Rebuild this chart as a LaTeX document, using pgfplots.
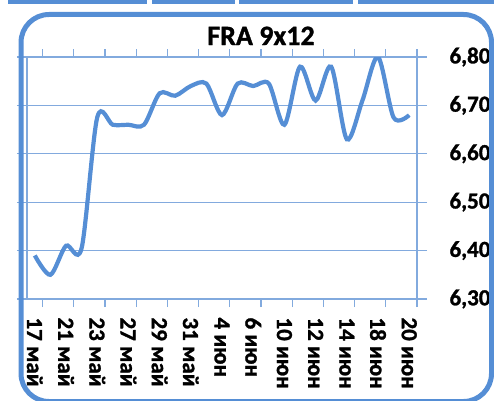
\documentclass[border=0pt]{standalone}
\usepackage{pgfplots}
\pgfplotsset{compat=1.18}
\usepackage{fontspec}
\setmainfont{Carlito}[BoldFeatures={FakeBold=1.2}]
\definecolor{lineblue}{RGB}{85,142,213}
\definecolor{gridblue}{RGB}{130,170,222}
\definecolor{frameblue}{RGB}{85,142,213}
\newcommand{\tlfont}{\fontsize{23bp}{25bp}\selectfont\bfseries}
\newcommand{\B}[1]{\textbf{#1}}
\begin{document}
\begin{tikzpicture}[x=1bp,y=1bp]
\useasboundingbox (0,0) rectangle (494,400);
\clip (0,0) rectangle (494,400);
% top strip
\fill[frameblue] (8,396) rectangle (147,400);
\fill[frameblue] (152,396) rectangle (235,400);
\fill[frameblue] (239,396) rectangle (353,400);
\fill[frameblue] (358,396) rectangle (494,400);
\node[anchor=base, font=\fontsize{28bp}{30bp}\selectfont\bfseries] at (261,355) {FRA 9x12};
\begin{axis}[
  at={(27bp,101bp)}, anchor=south west,
  scale only axis, width=390bp, height=242bp,
  xmin=-0.5, xmax=24.5, ymin=6.3, ymax=6.8,
  axis line style={gridblue, line width=1.3bp},
  ytick={6.3,6.4,...,6.8},
  ymajorgrids, major grid style={gridblue, line width=1.3bp},
  yticklabel pos=right,
  tick align=outside,
  major tick length=10bp,
  minor tick length=8bp,
  tick style={gridblue, line width=1.3bp},
  xtick={0,2,...,24},
  xticklabels={\B{17 май},\B{21 май},\B{23 май},\B{27 май},\B{29 май},\B{31 май},\B{4 июн},\B{6 июн},\B{10 июн},\B{12 июн},\B{14 июн},\B{18 июн},\B{20 июн}},
  major x tick style={draw=none},
  minor xtick={0.5,2.5,...,24.5},
  minor x tick style={gridblue, line width=1.3bp},
  /pgf/number format/assume math mode=true,
  /pgf/number format/.cd, use comma, fixed, fixed zerofill, precision=2,
  /pgfplots/.cd,
  tick label style={font=\tlfont},
  xticklabel style={rotate=-90, anchor=west, xshift=5bp},
  yticklabel style={anchor=west, xshift=19bp},
  yticklabel={\B{\pgfmathprintnumber{\tick}}},
]
\addplot[lineblue, line width=4.2bp, smooth, tension=0.5] coordinates {
(0,6.39) (1,6.35) (2,6.41) (3,6.405) (4,6.675) (5,6.66) (6,6.66) (7,6.66)
(8,6.725) (9,6.72) (10,6.74) (11,6.745) (12,6.68) (13,6.745) (14,6.74) (15,6.745)
(16,6.66) (17,6.78) (18,6.71) (19,6.78) (20,6.63) (21,6.71) (22,6.80) (23,6.675) (24,6.68)
};
\end{axis}
% frame drawn on top
\draw[frameblue, line width=5bp, rounded corners=28bp] (21,-1.5) rectangle (491.5,385.5);
\end{tikzpicture}
\end{document}
